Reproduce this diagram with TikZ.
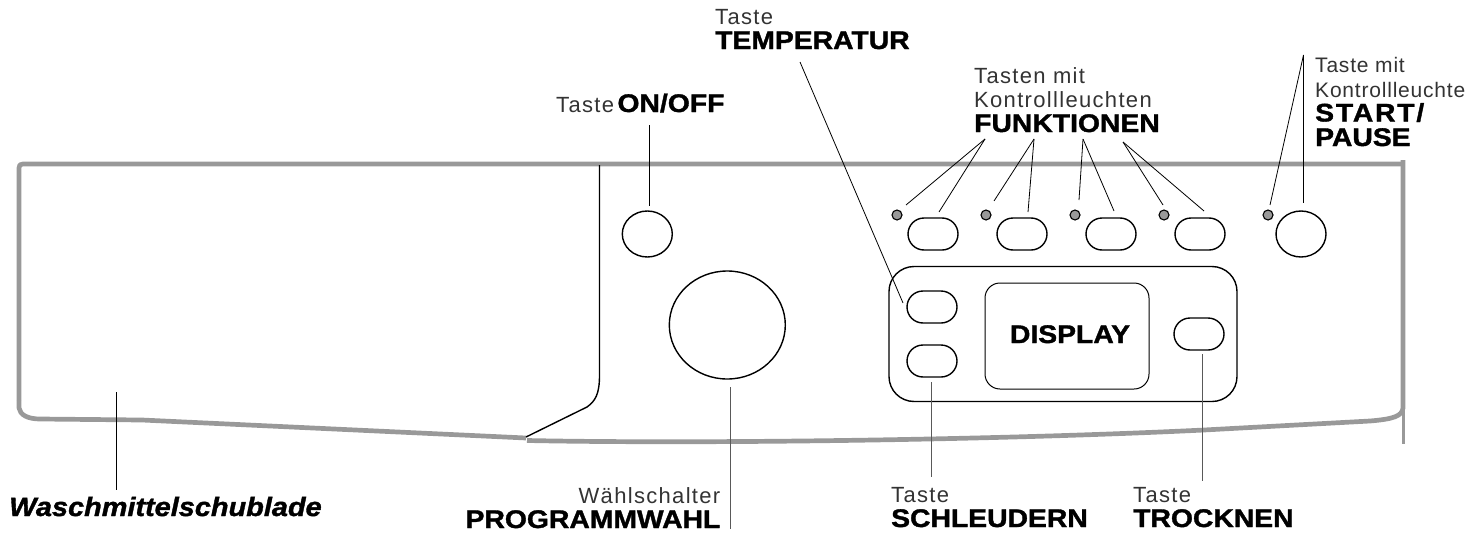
\documentclass[tikz,border=0pt]{standalone}
\usepackage{fontspec}
\setmainfont{Liberation Sans}
\newfontfamily\thinfont[LetterSpace=6]{Liberation Sans}
\newfontfamily\narrowfont[LetterSpace=3.8]{Liberation Sans}
\newfontfamily\heavyfont[FakeStretch=1.11,FakeBold=1.4]{Liberation Sans Bold}
\newfontfamily\widefont[FakeStretch=1.11,FakeBold=1.4,LetterSpace=7]{Liberation Sans Bold}
\newfontfamily\slantfont[FakeStretch=1.09,FakeBold=1.4]{Liberation Sans Bold Italic}
\usetikzlibrary{shapes.misc,shapes.geometric,positioning}
\definecolor{framegray}{HTML}{999999}
\definecolor{textgray}{HTML}{333333}
\tikzset{
  button/.style={draw,rounded rectangle,line width=1.4pt,minimum width=50pt,minimum height=32pt,inner sep=0pt},
  roundknob/.style={draw,ellipse,line width=1.4pt,inner sep=0pt},
  led/.style={draw,circle,fill=framegray,line width=1.1pt,minimum size=10pt,inner sep=0pt},
  leader/.style={line width=.8pt},
  greyleader/.style={line width=1pt,draw=black!65},
  frameline/.style={draw=framegray,line width=4.7pt,line join=round},
  caption/.style={font=\thinfont\fontsize{22}{24.5}\selectfont,text=textgray,align=left,inner sep=0pt},
  heavycap/.style={font=\heavyfont\fontsize{25.5}{24.5}\selectfont,inner sep=0pt},
}
\newcommand{\heavy}[1]{{\color{black}\heavyfont\fontsize{25.5}{24.5}\selectfont #1}}
\begin{document}
\begin{tikzpicture}[x=1pt,y=-1pt]
  \useasboundingbox (0,0) rectangle (1471,543);

  % frame
  \draw[frameline] (19,400) -- (19,168) .. controls (19,165) and (20,164) .. (23,164) -- (1403,164);
  \draw[frameline] (1403,160) -- (1403,408)
    .. controls (1402,416) and (1394,419) .. (1370,421)
    -- (1204,430) .. controls (1000,440) and (700,444) .. (527,440.5);
  \draw[frameline] (19,400) -- (19,408) .. controls (20,415) and (28,419) .. (40,419)
    -- (142,420) -- (526,438);
  \draw[draw=framegray,line width=3pt] (1403,408) -- (1403,444);

  % drawer edge
  \draw[line width=1.4pt] (599.5,165) -- (599.5,375)
    .. controls (599.5,395) and (595,401) .. (587,407) -- (526,437);

  % panel
  \node[draw,rounded corners=25pt,line width=1.4pt,minimum width=348pt,minimum height=135pt,inner sep=0pt] (panel) at (1063,334) {};
  \node[draw,rounded corners=15pt,line width=1pt,minimum width=164pt,minimum height=106pt,inner sep=0pt] (display) at (1067,336) {};
  \node[heavycap,anchor=base] (displayText) at (1070,343) {DISPLAY};

  % buttons
  \node[button] (funcA) at (933,234) {};
  \node[button] (funcB) at (1022,234) {};
  \node[button] (funcC) at (1111,234) {};
  \node[button] (funcD) at (1200,234) {};
  \node[button] (temp) at (932,307) {};
  \node[button] (spin) at (932,361) {};
  \node[button] (dry) at (1199,334) {};
  \node[roundknob,minimum width=50pt,minimum height=46pt] (start) at (1301,234) {};
  \node[roundknob,minimum width=50pt,minimum height=46pt] (onoff) at (647.3,234) {};
  \node[roundknob,minimum width=116pt,minimum height=108pt] (dial) at (727.3,325) {};

  % lamps
  \node[led] (ledA) at (897,215) {};
  \node[led] (ledB) at (986,215) {};
  \node[led] (ledC) at (1075,215) {};
  \node[led] (ledD) at (1164,215) {};
  \node[led] (ledS) at (1268,215) {};

  % labels
  \node[caption,anchor=base west] (lblTemp) at (715,49) {Taste\\\heavy{TEMPERATUR}};
  \node[caption,anchor=base west] (lblOnoff) at (556,112) {Taste\hspace{-4pt} \heavy{ON/OFF}};
  \node[caption,anchor=base west] (lblFunc) at (974,132) {Tasten mit\\Kontrollleuchten\\\heavy{FUNKTIONEN}};
  \node[caption,anchor=base west,font=\narrowfont\fontsize{21}{24.5}\selectfont] (lblStart) at (1315,146) {Taste mit\\Kontrollleuchte\\{\color{black}\widefont\fontsize{25.5}{24.5}\selectfont START/}\\\heavy{PAUSE}};
  \node[anchor=base west,inner sep=0pt,font=\slantfont\fontsize{26.5}{27}\selectfont] (lblDrawer) at (9,516) {Waschmittelschublade};
  \node[caption,anchor=base east,align=right] (lblProg) at (720.5,528) {Wählschalter\\\heavy{PROGRAMMWAHL}};
  \node[caption,anchor=base west] (lblSpin) at (891,527) {Taste\\\heavy{SCHLEUDERN}};
  \node[caption,anchor=base west] (lblDry) at (1133,527) {Taste\\\heavy{TROCKNEN}};

  % leader ends
  \coordinate (tempTop) at (800,62);
  \coordinate (tempEnd) at (903,303);
  \coordinate (funcTopA) at (985,139);
  \coordinate (funcTopB) at (1034,139);
  \coordinate (funcTopC) at (1083,139);
  \coordinate (funcTopD) at (1123,142);
  \coordinate (startTop) at (1303.5,55);

  % leaders
  \draw[leader] (tempTop) -- (tempEnd);
  \draw[leader] (funcTopA) -- (906,205);
  \draw[leader] (funcTopA) -- (939,212);
  \draw[leader] (funcTopB) -- (994,201);
  \draw[leader] (funcTopB) -- (1028,212);
  \draw[leader] (funcTopC) -- (1079,200);
  \draw[leader] (funcTopC) -- (1114,211);
  \draw[leader] (funcTopD) -- (1163,205);
  \draw[leader] (funcTopD) -- (1204,211);
  \draw[leader] (startTop) -- (1270,205);
  \draw[leader] (startTop) -- (1303.5,203);
  \draw[leader] (649.3,125) -- (649.3,205.5);
  \draw[leader] (116,392) -- (116,490);
  \draw[greyleader] (730,387) -- (730,529);
  \draw[greyleader] (931,382) -- (931,477);
  \draw[greyleader] (1202,354) -- (1202,481);
\end{tikzpicture}
\end{document}
